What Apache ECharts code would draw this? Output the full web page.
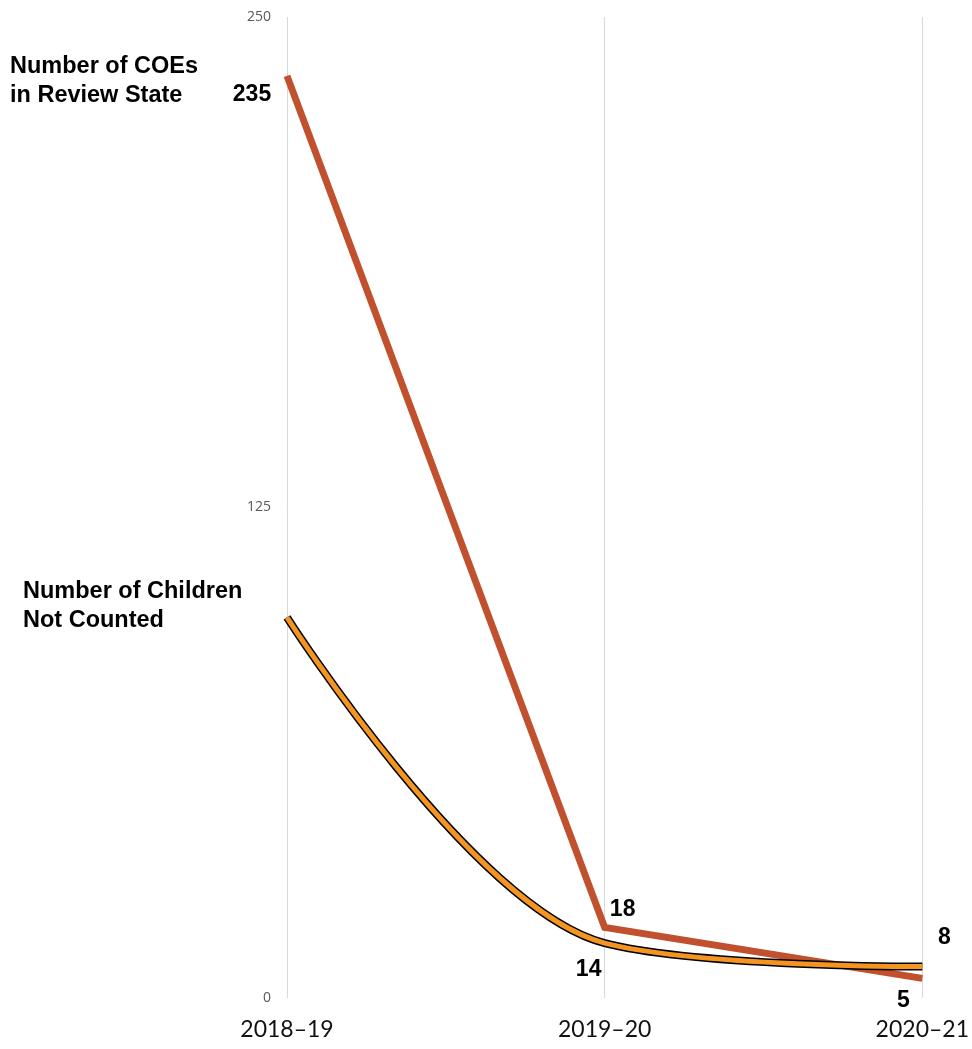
<!DOCTYPE html>
<html>
<head>
<meta charset="utf-8">
<script src="https://cdn.jsdelivr.net/npm/echarts@6/dist/echarts.min.js"></script>
<style>
  html, body { margin: 0; padding: 0; background: #fff; }
  #chart { width: 972px; height: 1049px; }
</style>
</head>
<body>
<div id="chart"></div>
<script>
// 数据
var years = ['2018–19', '2019–20', '2020–21'];
var coeValues = [235, 18, 5];
var childValues = [97, 14, 8];
var yTicks = [0, 125, 250];

var myChart = echarts.init(document.getElementById('chart'));

var labelFont = {
    fontFamily: 'Liberation Sans, Arial, sans-serif',
    fontWeight: 'bold',
    fontSize: 23,
    color: '#000'
};

// 每个点的标签偏移（null 表示不显示）
var coeOffsets = [[-35, 19], [18, -18], [-19, 22]];
var childOffsets = [null, [-16, 27], [22, -29]];

function buildData(values, offsets) {
    return values.map(function (v, i) {
        var off = offsets[i];
        return {
            value: v,
            label: off ? Object.assign({
                show: true,
                position: 'inside',
                align: 'center',
                verticalAlign: 'middle',
                offset: off
            }, labelFont) : { show: false }
        };
    });
}

var option = {
    backgroundColor: '#fff',
    animation: false,
    grid: { left: 287, right: 49, top: 17, bottom: 51 },
    xAxis: {
        type: 'category',
        data: years,
        boundaryGap: false,
        axisLine: { show: false },
        axisTick: { show: false },
        axisLabel: {
            fontFamily: 'Lato, Open Sans, sans-serif',
            fontSize: 23,
            color: '#111',
            margin: 20
        },
        splitLine: { show: true, lineStyle: { color: '#d9d9d9', width: 1 } }
    },
    yAxis: {
        type: 'value',
        min: yTicks[0],
        max: yTicks[yTicks.length - 1],
        interval: yTicks[1] - yTicks[0],
        axisLine: { show: false },
        axisTick: { show: false },
        splitLine: { show: false },
        axisLabel: {
            fontFamily: 'Open Sans, sans-serif',
            fontSize: 14,
            color: '#595959',
            margin: 16
        }
    },
    graphic: [
        {
            type: 'text',
            left: 10,
            top: 52,
            style: {
                text: 'Number of COEs\nin Review State',
                font: 'bold 23.5px Liberation Sans, Arial, sans-serif',
                lineHeight: 29,
                fill: '#000'
            }
        },
        {
            type: 'text',
            left: 23,
            top: 577,
            style: {
                text: 'Number of Children\nNot Counted',
                font: 'bold 23.5px Liberation Sans, Arial, sans-serif',
                lineHeight: 29,
                fill: '#000'
            }
        }
    ],
    series: [
        {
            name: 'Number of COEs in Review State',
            type: 'line',
            data: buildData(coeValues, coeOffsets),
            symbol: 'circle',
            symbolSize: 1,
            itemStyle: { color: 'rgba(0,0,0,0)' },
            lineStyle: { color: '#c1502e', width: 7, cap: 'butt', join: 'miter' },
            z: 2
        },
        {
            // 黑色描边
            name: 'outline',
            type: 'line',
            data: childValues,
            smooth: 0.35,
            symbol: 'none',
            lineStyle: { color: '#000', width: 8, cap: 'butt' },
            silent: true,
            z: 3
        },
        {
            name: 'Number of Children Not Counted',
            type: 'line',
            data: buildData(childValues, childOffsets),
            smooth: 0.35,
            symbol: 'circle',
            symbolSize: 1,
            itemStyle: { color: 'rgba(0,0,0,0)' },
            lineStyle: { color: '#f39423', width: 5, cap: 'butt' },
            z: 4
        }
    ]
};

myChart.setOption(option);
</script>
</body>
</html>
